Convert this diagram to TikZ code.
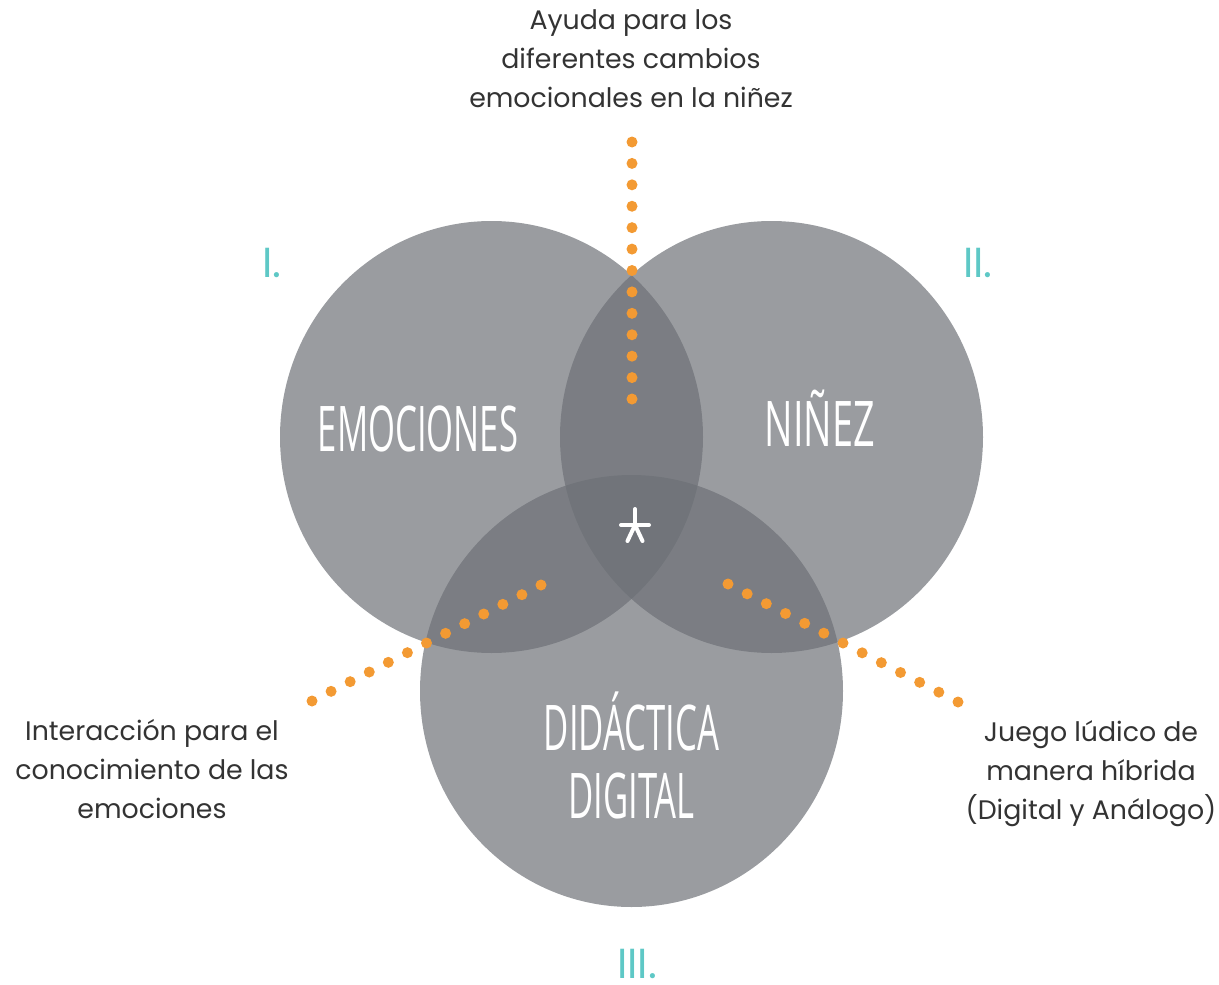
\documentclass[tikz,border=0pt]{standalone}
\usepackage{fontspec}
\setmainfont{Poppins}
\newfontfamily\titlefont{Open Sans}
\usetikzlibrary{calc}
\definecolor{circ}{RGB}{109,112,118}
\definecolor{dotc}{RGB}{243,154,51}
\definecolor{teal}{RGB}{94,200,198}
\definecolor{txt}{RGB}{51,51,51}
\tikzset{
  venn/.style={fill=circ, fill opacity=0.69, draw=none},
  title/.style={text=white, inner sep=0pt, anchor=base, font=\titlefont\fontsize{63}{63}\selectfont},
  numeral/.style={text=teal, inner sep=0pt, anchor=base, text depth=0pt, font=\fontsize{42}{42}\selectfont},
  note/.style={text=txt, inner sep=0pt, align=center, anchor=north, font=\fontsize{26.8}{39}\selectfont},
  dotline/.style={fill=dotc},
  aststroke/.style={white, line width=4pt, line cap=round}
}
\newcommand{\dotrow}[2]{\foreach \k in {0,...,12} {\fill[dotline] ($(#1)!\k/12!(#2)$) circle (5.5pt);}}
\begin{document}
\begin{tikzpicture}[x=1pt,y=-1pt]
\useasboundingbox (0,0) rectangle (1219,985);
% circles
\fill[venn] (491.5,437) ellipse [x radius=211.5, y radius=216];
\fill[venn] (771.5,437) ellipse [x radius=211.5, y radius=216];
\fill[venn] (631.5,691) ellipse [x radius=211.5, y radius=216];
% titles
\node[title] (emo) at (418,451) {\scalebox{0.55}[1]{EMOCIONES}};
\node[title] (nin) at (820,446) {\scalebox{0.6}[1]{NIÑEZ}};
\node[title] (did) at (631.5,750) {\scalebox{0.55}[1]{DIDÁCTICA}};
\node[title] (dig) at (631.5,818) {\scalebox{0.55}[1]{DIGITAL}};
% asterisk
\coordinate (ast) at (635,525);
\draw[aststroke] (ast) ++(-14,0) -- ++(28,0);
\draw[aststroke] (ast) -- ++(0,-16);
\draw[aststroke] (ast) -- ++(-7.5,16);
\draw[aststroke] (ast) -- ++(7.5,16);
% dotted leaders
\coordinate (t1) at (632,142); \coordinate (t2) at (632,399);
\coordinate (l1) at (541,585); \coordinate (l2) at (312,701);
\coordinate (r1) at (728,584); \coordinate (r2) at (958,702);
\dotrow{t1}{t2}
\dotrow{l1}{l2}
\dotrow{r1}{r2}
% numerals
\node[numeral] (n1) at (272,277) {I.};
\node[numeral] (n2) at (978,277) {II.};
\node[numeral] (n3) at (637,978) {III.};
% notes
\node[note] (top) at (631,9) {Ayuda para los\\diferentes cambios\\emocionales en la niñez};
\node[note] (left) at (152,719) {Interacción para el\\conocimiento de las\\emociones};
\node[note] (right) at (1091,720) {Juego lúdico de\\manera híbrida\\(Digital y Análogo)};
\end{tikzpicture}
\end{document}
